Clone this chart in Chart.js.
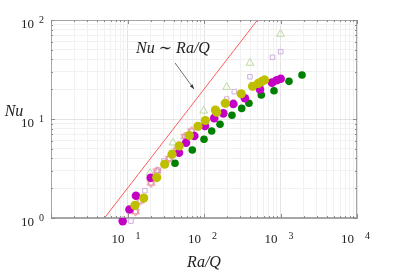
<!DOCTYPE html>
<html>
<head>
<meta charset="utf-8">
<script src="https://cdn.jsdelivr.net/npm/chart.js@4.4.1/dist/chart.umd.min.js"></script>
<style>
  html, body { margin: 0; padding: 0; background: #fff; }
  #wrap { width: 395px; height: 273px; position: relative; }
</style>
</head>
<body>
<div id="wrap"><canvas id="nuChart" width="395" height="273"></canvas></div>
<script>
// data (Ra/Q vs Nu)
const greenX = [41.8, 70.3, 100, 126, 162, 232, 311, 387, 561, 822, 1291, 1910];
const greenY = [3.57, 4.86, 6.24, 7.57, 8.84, 10.9, 12.8, 14.4, 17.5, 19.3, 24.0, 27.8];

const magentaX = [8.65, 10.6, 12.9, 20.1, 47.1, 58.2, 74.7, 103, 136, 179, 242, 343, 539, 774, 892, 1006];
const magentaY = [0.93, 1.22, 1.68, 2.55, 4.57, 5.76, 6.73, 8.5, 10.2, 11.4, 14.2, 16.2, 19.9, 23.3, 24.6, 25.5];

const yellowX = [9.47, 12.5, 16.3, 24.1, 30.6, 38.2, 47.4, 64.3, 83.5, 104, 141, 147, 190, 307, 431, 513, 565, 618];
const yellowY = [0.82, 1.34, 1.59, 2.56, 3.49, 4.41, 5.34, 6.81, 8.44, 9.66, 12.3, 11.7, 14.4, 18.0, 21.4, 22.9, 23.8, 24.8];

const squareX = [11.1, 16.9, 25.3, 30, 59.4, 198, 249, 399, 786, 1006];
const squareY = [0.93, 1.89, 3.05, 3.77, 6.66, 15.9, 18.9, 26.7, 42, 47.8];

const triangleX = [19.7, 39.3, 99, 198, 399, 1000];
const triangleY = [2.85, 5.76, 12.1, 21.0, 36.8, 72.2];

const starX = [12.7, 14.6, 20.3, 24.3, 35.2, 44.4, 56.5, 69];
const starY = [1.16, 1.49, 2.26, 2.98, 4.0, 4.86, 6.66, 7.57];

// guide line Nu ~ Ra/Q
const lineX = [5, 500];
const lineY = [1, 100];

const xDecades = [1, 2, 3, 4];
const yDecades = [0, 1, 2];

// annotation anchors (data coords)
const noteText = { x: 39.3, y: 52 };
const arrowFrom = { x: 41.8, y: 36.8 };
const arrowTo = { x: 74, y: 20.1 };

function pts(xs, ys) {
    return xs.map((x, i) => ({ x: x, y: ys[i] }));
}

function logTicks(lo, hi) {
    const out = [];
    for (let e = lo; e < hi; e++) {
        for (let m = 1; m < 10; m++) out.push({ value: m * Math.pow(10, e), major: m === 1 });
    }
    out.push({ value: Math.pow(10, hi), major: true });
    return out;
}

// hexagram marker
function makeHexagram(color) {
    const c = document.createElement('canvas');
    c.width = 11; c.height = 11;
    const g = c.getContext('2d');
    g.strokeStyle = color;
    g.lineWidth = 1;
    const cx = 5.5, cy = 5.5, r = 4.5;
    for (let k = 0; k < 2; k++) {
        g.beginPath();
        for (let i = 0; i < 3; i++) {
            const a = -Math.PI / 2 + k * Math.PI + i * 2 * Math.PI / 3;
            const px = cx + r * Math.cos(a), py = cy + r * Math.sin(a);
            if (i === 0) g.moveTo(px, py); else g.lineTo(px, py);
        }
        g.closePath();
        g.stroke();
    }
    return c;
}

const serif = '"Liberation Serif", "DejaVu Serif", serif';

const decorPlugin = {
    id: 'decor',
    afterDraw(chart) {
        const ctx = chart.ctx;
        const xs = chart.scales.x, ys = chart.scales.y;
        const a = chart.chartArea;
        ctx.save();

        // box
        ctx.strokeStyle = '#a6a6a6';
        ctx.lineWidth = 1;
        ctx.strokeRect(a.left + 0.5, a.top + 0.5, a.right - a.left - 1, a.bottom - a.top - 1);

        // inner tick marks
        ctx.strokeStyle = '#8c8c8c';
        ctx.beginPath();
        xs.ticks.forEach(t => {
            const p = Math.round(xs.getPixelForValue(t.value)) + 0.5;
            const len = t.major ? 4 : 2;
            ctx.moveTo(p, a.bottom); ctx.lineTo(p, a.bottom - len);
            ctx.moveTo(p, a.top); ctx.lineTo(p, a.top + len);
        });
        ys.ticks.forEach(t => {
            const p = Math.round(ys.getPixelForValue(t.value)) + 0.5;
            const len = t.major ? 4 : 2;
            ctx.moveTo(a.left, p); ctx.lineTo(a.left + len, p);
            ctx.moveTo(a.right, p); ctx.lineTo(a.right - len, p);
        });
        ctx.stroke();

        // tick labels as 10^n
        ctx.fillStyle = '#222';
        ctx.textBaseline = 'alphabetic';
        xDecades.forEach(e => {
            const p = xs.getPixelForValue(Math.pow(10, e));
            ctx.font = '13px ' + serif;
            ctx.textAlign = 'right';
            ctx.fillText('10', p - 3, a.bottom + 25);
            ctx.font = '10px ' + serif;
            ctx.textAlign = 'left';
            ctx.fillText(String(e), p + 8, a.bottom + 21);
        });
        yDecades.forEach(e => {
            const p = ys.getPixelForValue(Math.pow(10, e));
            ctx.font = '13px ' + serif;
            ctx.textAlign = 'right';
            ctx.fillText('10', a.left - 17, p + 8);
            ctx.font = '10px ' + serif;
            ctx.textAlign = 'right';
            ctx.fillText(String(e), a.left - 7, p + 3);
        });

        // axis titles
        ctx.font = 'italic 16px ' + serif;
        ctx.textAlign = 'center';
        ctx.fillText('Ra/Q', (a.left + a.right) / 2, a.bottom + 49);
        ctx.fillText('Nu', 14, ys.getPixelForValue(10) - 3);

        // annotation
        ctx.font = 'italic 16px ' + serif;
        ctx.fillText('Nu \u223C Ra/Q', xs.getPixelForValue(noteText.x), ys.getPixelForValue(noteText.y) + 5);

        const x0 = xs.getPixelForValue(arrowFrom.x), y0 = ys.getPixelForValue(arrowFrom.y);
        const x1 = xs.getPixelForValue(arrowTo.x), y1 = ys.getPixelForValue(arrowTo.y);
        ctx.strokeStyle = '#333';
        ctx.lineWidth = 0.7;
        ctx.beginPath();
        ctx.moveTo(x0, y0); ctx.lineTo(x1, y1);
        ctx.stroke();
        const ang = Math.atan2(y1 - y0, x1 - x0);
        ctx.fillStyle = '#333';
        ctx.beginPath();
        ctx.moveTo(x1, y1);
        ctx.lineTo(x1 - 5 * Math.cos(ang - 0.35), y1 - 5 * Math.sin(ang - 0.35));
        ctx.lineTo(x1 - 5 * Math.cos(ang + 0.35), y1 - 5 * Math.sin(ang + 0.35));
        ctx.closePath();
        ctx.fill();

        ctx.restore();
    }
};

const chart = new Chart(document.getElementById('nuChart'), {
    type: 'scatter',
    data: {
        datasets: [
            {
                label: 'yellow', data: pts(yellowX, yellowY), order: 1, clip: false,
                backgroundColor: '#bfbf00', borderColor: '#bfbf00', borderWidth: 0,
                pointRadius: 4.6
            },
            {
                label: 'magenta', data: pts(magentaX, magentaY), order: 2, clip: false,
                backgroundColor: '#c400c4', borderColor: '#c400c4', borderWidth: 0,
                pointRadius: 4.3
            },
            {
                label: 'green', data: pts(greenX, greenY), order: 3, clip: false,
                backgroundColor: '#008000', borderColor: '#008000', borderWidth: 0,
                pointRadius: 3.8
            },
            {
                label: 'stars', data: pts(starX, starY), order: 4, clip: false,
                pointStyle: makeHexagram('#e58a9a')
            },
            {
                label: 'triangles', data: pts(triangleX, triangleY), order: 5, clip: false,
                pointStyle: 'triangle', backgroundColor: 'rgba(0,0,0,0)',
                borderColor: '#bcd9a4', borderWidth: 1, pointRadius: 4.5
            },
            {
                label: 'squares', data: pts(squareX, squareY), order: 6, clip: false,
                pointStyle: 'rect', backgroundColor: 'rgba(0,0,0,0)',
                borderColor: '#cfb0df', borderWidth: 1, pointRadius: 3.2
            },
            {
                label: 'line', type: 'line', data: pts(lineX, lineY), order: 7,
                borderColor: '#ff5a5a', borderWidth: 1, pointRadius: 0, fill: false
            }
        ]
    },
    options: {
        responsive: false,
        animation: false,
        events: [],
        layout: { padding: { left: 51, right: 38, top: 20, bottom: 55 } },
        plugins: { legend: { display: false }, tooltip: { enabled: false } },
        scales: {
            x: {
                type: 'logarithmic', min: 1, max: 10000,
                afterBuildTicks: s => { s.ticks = logTicks(0, 4); },
                ticks: { display: false },
                grid: {
                    drawTicks: false,
                    color: c => (c.tick && c.tick.major) ? '#e3e3e3' : '#f1f1f1',
                    lineWidth: 1
                },
                border: { color: '#a6a6a6', width: 1 }
            },
            y: {
                type: 'logarithmic', min: 1, max: 100,
                afterBuildTicks: s => { s.ticks = logTicks(0, 2); },
                ticks: { display: false },
                grid: {
                    drawTicks: false,
                    color: c => (c.tick && c.tick.major) ? '#e3e3e3' : '#f1f1f1',
                    lineWidth: 1
                },
                border: { color: '#a6a6a6', width: 1 }
            }
        }
    },
    plugins: [decorPlugin]
});
</script>
</body>
</html>
